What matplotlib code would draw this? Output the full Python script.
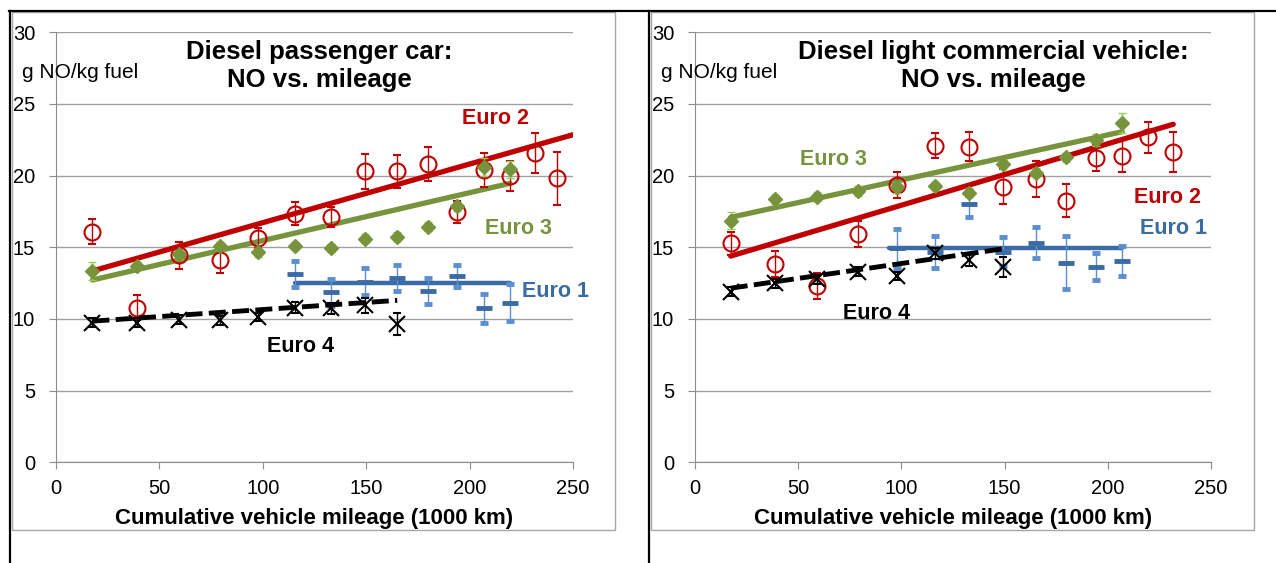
import numpy as np
import matplotlib.pyplot as plt
from matplotlib.lines import Line2D
from matplotlib.patches import Rectangle

plt.rcParams['font.family'] = ['Liberation Sans', 'DejaVu Sans']

W, H = 1276, 563

# ---- Diesel passenger car ----
pc_x = [17.6, 39.0, 59.6, 79.3, 97.8, 115.6, 132.8, 149.4, 165.0, 180.0, 193.8, 207.0, 219.5, 231.6, 242.4]
pc_e2 = [16.1, 10.8, 14.45, 14.1, 15.65, 17.35, 17.1, 20.3, 20.3, 20.8, 17.45, 20.4, 19.95, 21.6, 19.8]
pc_e2_err = [0.9, 0.9, 0.95, 0.9, 0.7, 0.8, 0.7, 1.2, 1.15, 1.2, 0.75, 1.2, 1.05, 1.4, 1.85]
pc_e3 = [13.35, 13.7, 14.5, 15.1, 14.65, 15.1, 14.95, 15.6, 15.75, 16.45, 17.85, 20.6, 20.45]
pc_e3_err = [0.6, 0.3, 0.3, 0.3, 0.3, 0.3, 0.3, 0.3, 0.3, 0.3, 0.3, 0.6, 0.6]
pc_e1_x = [115.6, 132.8, 149.4, 165.0, 180.0, 193.8, 207.0, 219.5]
pc_e1 = [13.15, 11.85, 12.6, 12.85, 11.95, 13.0, 10.75, 11.15]
pc_e1_err = [0.9, 0.95, 0.95, 0.9, 0.9, 0.8, 1.0, 1.3]
pc_e4 = [9.75, 9.75, 9.95, 9.9, 10.15, 10.8, 10.75, 10.95, 9.65]
pc_e4_err = [0.3, 0.3, 0.3, 0.3, 0.3, 0.4, 0.4, 0.5, 0.75]
# trend lines (end points)
pc_fit_e2 = ([17.6, 250.0], [13.35, 22.85])
pc_fit_e3 = ([17.6, 219.5], [12.72, 19.46])
pc_fit_e1 = ([115.6, 219.5], [12.49, 12.49])
pc_fit_e4 = ([17.6, 165.0], [9.85, 11.3])

# ---- Diesel light commercial vehicle ----
lcv_x = [17.3, 38.8, 59.3, 79.1, 97.7, 116.3, 132.8, 149.4, 165.1, 179.7, 194.1, 207.0, 219.6, 231.7]
lcv_e2 = [15.28, 13.84, 12.32, 15.93, 19.34, 22.09, 22.02, 19.23, 19.74, 18.23, 21.25, 21.37, 22.67, 21.67]
lcv_e2_err = [0.8, 0.9, 0.9, 0.9, 0.9, 0.85, 1.0, 1.2, 1.25, 1.15, 0.95, 1.15, 1.1, 1.4]
lcv_e3 = [16.86, 18.35, 18.53, 18.93, 19.18, 19.27, 18.81, 20.79, 20.2, 21.28, 22.48, 23.69]
lcv_e3_err = [0.6, 0.3, 0.3, 0.35, 0.4, 0.3, 0.3, 0.3, 0.3, 0.3, 0.4, 0.7]
lcv_e1_x = [97.7, 116.3, 132.8, 149.4, 165.1, 179.7, 194.1, 207.0]
lcv_e1 = [14.93, 14.69, 18.02, 14.69, 15.32, 13.93, 13.65, 14.07]
lcv_e1_err = [1.35, 1.1, 0.9, 1.0, 1.1, 1.85, 0.95, 1.05]
lcv_e4 = [11.9, 12.49, 12.77, 13.3, 13.0, 14.58, 14.11, 13.65]
lcv_e4_err = [0.3, 0.3, 0.3, 0.3, 0.3, 0.4, 0.4, 0.7]
lcv_fit_e2 = ([17.3, 231.7], [14.39, 23.58])
lcv_fit_e3 = ([17.3, 207.0], [17.09, 23.06])
lcv_fit_e1 = ([94.0, 207.0], [14.93, 14.93])
lcv_fit_e4 = ([17.3, 149.4], [12.15, 14.9])

RED = '#C00000'
GREEN = '#77933C'
GREEN_ERR = '#92D050'
BLUE = '#3B6BA5'
BLUE_ERR = '#5B8FCF'


def draw_panel(ax, x, e2, e2err, e3, e3err, e1x, e1, e1err, e4, e4err, fits, label_pos):
    fit2, fit3, fit1, fit4 = fits
    # data points with error bars
    ax.errorbar(x, e2, yerr=e2err, fmt='o', ms=11.5, mfc='none', mec=RED, mew=1.5,
                ecolor=RED, elinewidth=1, capsize=3, zorder=4)
    ax.errorbar(x[:len(e3)], e3, yerr=e3err, fmt='D', ms=7.5, color=GREEN,
                ecolor=GREEN_ERR, elinewidth=1, capsize=3, zorder=5)
    ax.errorbar(e1x, e1, yerr=e1err, fmt='_', ms=11.5, mew=3.5, color=BLUE,
                ecolor=BLUE_ERR, elinewidth=1, capsize=3, zorder=5)
    ax.errorbar(x[:len(e4)], e4, yerr=e4err, fmt='x', ms=11, mew=1.5, color='black',
                ecolor='black', elinewidth=1, capsize=3, zorder=5)
    # trend lines
    ax.plot(*fit2, color=RED, lw=3.8, solid_capstyle='round', zorder=3)
    ax.plot(*fit3, color=GREEN, lw=3.8, solid_capstyle='round', zorder=3)
    ax.plot(*fit1, color=BLUE, lw=3.2, solid_capstyle='round', zorder=3)
    ax.plot(*fit4, color='black', lw=3.5, ls=(0, (3.5, 1.3)), zorder=6)

    for (tx, ty), txt, c in zip(label_pos, ['Euro 2', 'Euro 3', 'Euro 1', 'Euro 4'],
                                [RED, GREEN, BLUE, 'black']):
        ax.text(tx, ty, txt, color=c, fontsize=15.5, fontweight='bold',
                ha='center', va='center', zorder=7)

    ax.set_xlim(0, 250)
    ax.set_ylim(0, 30)
    ax.set_xticks(range(0, 251, 50))
    ax.set_yticks(range(0, 31, 5))
    ax.grid(axis='y', color='#A0A0A0', lw=1)
    ax.set_axisbelow(True)
    for s in ['top', 'right']:
        ax.spines[s].set_visible(False)
    for s in ['left', 'bottom']:
        ax.spines[s].set_color('#8C8C8C')
    ax.tick_params(axis='x', colors='#8C8C8C', labelcolor='black', length=5,
                   labelsize=14.5, pad=7)
    ax.tick_params(axis='y', colors='#8C8C8C', labelcolor='black', length=5,
                   labelsize=14.5, pad=10)
    ax.set_xlabel('Cumulative vehicle mileage (1000 km)', fontsize=16, fontweight='bold')
    ax.xaxis.set_label_coords(0.5, -0.107)


fig = plt.figure(figsize=(W / 100, H / 100), dpi=100)

ax_bot = (H - 462.4) / H
ax_h = 430.2 / H
ax1 = fig.add_axes([56 / W, ax_bot, 517 / W, ax_h])
ax2 = fig.add_axes([695 / W, ax_bot, 516 / W, ax_h])

draw_panel(ax1, pc_x, pc_e2, pc_e2_err, pc_e3, pc_e3_err, pc_e1_x, pc_e1, pc_e1_err,
           pc_e4, pc_e4_err, [pc_fit_e2, pc_fit_e3, pc_fit_e1, pc_fit_e4],
           [(212.3, 24.0), (223.4, 16.3), (241.3, 11.9), (118.0, 8.05)])
draw_panel(ax2, lcv_x, lcv_e2, lcv_e2_err, lcv_e3, lcv_e3_err, lcv_e1_x, lcv_e1, lcv_e1_err,
           lcv_e4, lcv_e4_err, [lcv_fit_e2, lcv_fit_e3, lcv_fit_e1, lcv_fit_e4],
           [(228.7, 18.5), (66.9, 21.1), (231.6, 16.3), (87.7, 10.4)])

# titles and unit labels
fig.text(319 / W, 1 - 66 / H, 'Diesel passenger car:\nNO vs. mileage', fontsize=18.5,
         fontweight='bold', ha='center', va='center', linespacing=1.2)
fig.text(993 / W, 1 - 66 / H, 'Diesel light commercial vehicle:\nNO vs. mileage', fontsize=18.5,
         fontweight='bold', ha='center', va='center', linespacing=1.2)
fig.text(22 / W, 1 - 72 / H, 'g NO/kg fuel', fontsize=15, ha='left', va='center')
fig.text(661 / W, 1 - 72 / H, 'g NO/kg fuel', fontsize=15, ha='left', va='center')

# chart area frames and surrounding table lines
fig.add_artist(Rectangle((12 / W, 1 - 530 / H), 603 / W, 518 / H, transform=fig.transFigure,
                         fill=False, ec='#A6A6A6', lw=1))
fig.add_artist(Rectangle((651 / W, 1 - 530 / H), 603 / W, 518 / H, transform=fig.transFigure,
                         fill=False, ec='#A6A6A6', lw=1))
fig.add_artist(Line2D([9 / W, 1], [1 - 11 / H, 1 - 11 / H], color='black', lw=1.6))
fig.add_artist(Line2D([10 / W, 10 / W], [0, 1 - 11 / H], color='black', lw=1.6))
fig.add_artist(Line2D([649 / W, 649 / W], [0, 1 - 11 / H], color='black', lw=1.6))

fig.savefig('out.png', dpi=100)
